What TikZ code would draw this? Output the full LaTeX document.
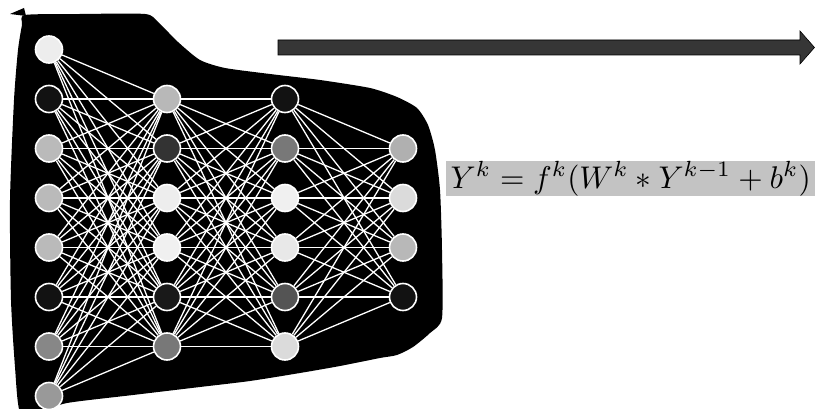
\documentclass[tikz,border=0pt]{standalone}
\usetikzlibrary{backgrounds}
\definecolor{boxgray}{HTML}{C3C3C3}
\definecolor{arrowgray}{HTML}{363636}
\begin{document}
\begin{tikzpicture}[x=1pt,y=-1pt,
  neuron/.style={circle, draw=white, line width=1.6pt, minimum size=27pt, inner sep=0pt},
  link/.style={white, line width=1.3pt},
  formula/.style={fill=boxgray, inner sep=0pt, minimum width=369pt, minimum height=35pt, anchor=north west},
]
\useasboundingbox (0,0) rectangle (815,409);
% layer 1
\foreach \c [count=\i] in {black!7, black!93, black!27, black!27, black!27, black!93, black!47, black!40}
  \node[neuron, fill=\c] (a\i) at (49, {49.5*\i}) {};
% layer 2
\foreach \c [count=\i] in {black!28, black!80, black!7, black!6, black!90, black!53}
  \node[neuron, fill=\c] (b\i) at (167, {49.5*(\i+1)}) {};
% layer 3
\foreach \c [count=\i] in {black!93, black!53, black!6, black!9, black!67, black!14}
  \node[neuron, fill=\c] (c\i) at (285, {49.5*(\i+1)}) {};
% layer 4
\foreach \c [count=\i] in {black!31, black!14, black!28, black!93}
  \node[neuron, fill=\c] (d\i) at (403, {49.5*(\i+2)}) {};
\begin{scope}[on background layer]
  \fill[black] plot[smooth cycle, tension=0.4] coordinates {
    (25,15) (80,14) (145,14) (158,22) (178,42) (200,60) (225,68) (270,74)
    (320,80) (370,88) (397,97) (417,108) (428,125) (435,150) (440,190)
    (442,250) (442,318) (430,333) (413,347) (397,355) (380,358) (340,366)
    (300,373) (250,381) (200,387) (133,395) (67,403) (40,412) (20,412)
    (15,367) (11,300) (10,200) (14,100) (18,50) (22,25)};
  \fill[black] (10,14) -- (24,8) -- (26,16) -- cycle;
  \foreach \i in {1,...,8} \foreach \j in {1,...,6} \draw[link] (a\i) -- (b\j);
  \foreach \i in {1,...,6} \foreach \j in {1,...,6} \draw[link] (b\i) -- (c\j);
  \foreach \i in {1,...,6} \foreach \j in {1,...,4} \draw[link] (c\i) -- (d\j);
\end{scope}
% arrow
\filldraw[fill=arrowgray, draw=black, line width=0.6pt]
  (278,40) -- (800,40) -- (800,31) -- (814.5,47.5) -- (800,64) -- (800,55) -- (278,55) -- cycle;
% formula
\node[formula] (eq) at (446,161) {\resizebox{360pt}{!}{$Y^k = f^k(W^k \ast Y^{k-1} + b^k)$}};
\end{tikzpicture}
\end{document}
